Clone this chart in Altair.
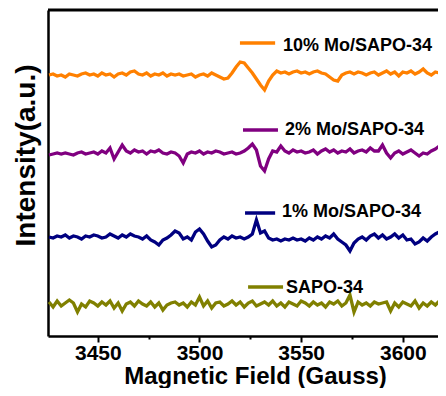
import altair as alt
import pandas as pd

FONT = "Liberation Sans"

# Magnetic field sample positions (Gauss)
field_gauss = [
    3426, 3428, 3430, 3432, 3434, 3436, 3438, 3440, 3442, 3444,
    3446, 3448, 3450, 3452, 3454, 3456, 3458, 3460, 3462, 3464,
    3466, 3468, 3470, 3472, 3474, 3476, 3478, 3480, 3482, 3484,
    3486, 3488, 3490, 3492, 3494, 3496, 3498, 3500, 3502, 3504,
    3506, 3508, 3510, 3512, 3514, 3516, 3518, 3520, 3522, 3524,
    3526, 3528, 3530, 3532, 3534, 3536, 3538, 3540, 3542, 3544,
    3546, 3548, 3550, 3552, 3554, 3556, 3558, 3560, 3562, 3564,
    3566, 3568, 3570, 3572, 3574, 3576, 3578, 3580, 3582, 3584,
    3586, 3588, 3590, 3592, 3594, 3596, 3598, 3600, 3602, 3604,
    3606, 3608, 3610, 3612, 3614, 3616, 3618, 3620,
]

# EPR signal of each sample (a.u., relative to its own baseline)
sapo34 = [
    2, -3, 3, -2, 1, 4, 1, -8, 0, -3,
    3, 1, -2, 2, -1, 3, -4, 1, -7, 0,
    2, -2, 3, 0, -2, 2, -3, 1, -6, -1,
    1, 2, -1, 1, -3, 2, -1, 7, -2, 3,
    -4, 1, 2, -2, 0, 3, -1, 2, -3, 1,
    3, -2, 0, 2, -1, 3, -2, 1, -3, 2,
    0, -2, 3, 1, -2, 2, -1, 1, -3, 2,
    0, 3, -2, 1, 9, -8, 2, -1, 1, -2,
    2, 0, 1, 2, -7, 1, -3, 2, 0, -2,
    3, -4, 1, -2, 2, -1, 3, 1,
]
mo1 = [
    0, -1, 1, 0, 2, -1, 1, 0, -2, 1,
    0, 2, 1, -1, 0, 3, 1, -1, 2, 0,
    3, 1, 0, -2, 1, -3, -5, -8, -3, -1,
    2, 6, 4, -2, 0, -3, 5, 8, 3, -4,
    -10, -8, -3, 0, -2, 1, -1, 0, -2, 0,
    3, 17, 4, 6, -1, -3, -2, -4, -2, -3,
    -1, -3, -2, -4, -1, -3, 0, -2, 1, -1,
    3, -2, -5, -8, -14, -6, -2, 0, -3, 1,
    3, -1, 2, -2, 0, 3, -1, 2, -3, -2,
    -7, -5, -1, -4, 0, 3, 5, 2,
]
mo2 = [
    -1, 0, 1, 0, 1, 0, -1, 1, 2, 0,
    1, 2, 0, 3, 1, 6, -5, 2, 9, 3,
    1, 4, 2, 3, 0, 3, 2, 4, 1, 0,
    2, 1, -2, -9, 0, 2, 1, 3, 0, 2,
    1, 3, 2, 0, 1, 2, 0, 1, 3, 6,
    10, 4, -12, -17, -5, 3, 2, 8, 3, 1,
    4, 2, 3, 1, 2, 4, 0, 3, 5, 2,
    4, 1, 3, 2, 5, 1, 3, 4, 2, 6,
    3, 3, 9, 1, -4, 1, 3, 0, 2, 4,
    1, -2, 1, 0, 3, 5, 8, 6,
]
mo10 = [
    0, 1, -1, 0, -2, 1, 0, -1, 1, 2,
    0, 1, -1, 2, 0, 1, -2, 1, 2, 0,
    3, 4, 1, 0, 2, -1, 1, 0, 2, -1,
    1, 0, 1, -1, 0, 1, -2, 0, 1, -1,
    2, 0, -2, -4, -3, 2, 8, 13, 12, 7,
    2, -4, -10, -15, -6, 0, 4, 2, 3, 1,
    3, 4, 2, 3, 1, 3, 4, 2, 1, -2,
    -5, -6, 0, 2, 3, 1, 3, 2, 0, 2,
    3, 0, 2, 4, 1, 3, -1, 3, 2, 4,
    1, 3, 6, 2, 0, 3, 2, 4,
]

series_names = ["SAPO-34", "1% Mo/SAPO-34", "2% Mo/SAPO-34", "10% Mo/SAPO-34"]
series_colors = ["#808000", "#000080", "#800080", "#FF8000"]
series_offsets = [32, 99, 182, 261]  # vertical offset for clarity
series_values = [sapo34, mo1, mo2, mo10]

# in-plot legend annotations
seg_start = [3523.9, 3522.4, 3521.4, 3519.9]
seg_end = [3541.1, 3537.2, 3538.6, 3537.2]
seg_y = [49, 123, 206, 293]
text_x = [3542.6, 3540.6, 3542.1, 3541.1]
text_y = [48, 124.5, 206, 290]

x_ticks = [3450, 3475, 3500, 3525, 3550, 3575, 3600]
x_domain = [3425.5, 3617.3]
y_domain = [0, 326]
PLOT_W, PLOT_H = 390, 326

rows = []
for name, off, vals in zip(series_names, series_offsets, series_values):
    for g, v in zip(field_gauss, vals):
        rows.append({"field": g, "intensity": off + v, "sample": name})
df = pd.DataFrame(rows)

label_df = pd.DataFrame({
    "sample": series_names, "x1": seg_start, "x2": seg_end,
    "ys": seg_y, "xt": text_x, "yt": text_y,
})

x_scale = alt.Scale(domain=x_domain, nice=False, zero=False)
y_scale = alt.Scale(domain=y_domain, nice=False, zero=False)
color = alt.Color("sample:N", scale=alt.Scale(domain=series_names, range=series_colors), legend=None)

x_axis = alt.Axis(
    values=x_ticks, format="d",
    labelExpr="datum.value % 50 === 0 ? datum.label : ''",
    title="Magnetic Field (Gauss)", grid=False,
    domainColor="black", domainWidth=2.5,
    tickColor="black", tickWidth=2,
    tickSize={"condition": {"test": "datum.value % 50 === 0", "value": 6}, "value": 3},
    labelFont=FONT, labelFontSize=21, labelFontWeight="bold", labelColor="black",
    labelPadding=0, labelFlush=False,
    titleFont=FONT, titleFontSize=24, titleFontWeight="bold", titleColor="black",
    titleX=207, titleY=47, titleBaseline="alphabetic", titleAlign="center",
)
y_axis = alt.Axis(
    title="Intensity(a.u.)", labels=False, ticks=False, grid=False,
    domainColor="black", domainWidth=2.5,
    titleFont=FONT, titleFontSize=28, titleFontWeight="bold", titleColor="black",
    titleX=-22, titleY=145, titleAngle=270, titleAlign="center", titleBaseline="middle",
)

lines = alt.Chart(df).mark_line(strokeWidth=3.3, clip=True).encode(
    x=alt.X("field:Q", scale=x_scale, axis=x_axis),
    y=alt.Y("intensity:Q", scale=y_scale, axis=y_axis),
    color=color,
)

segs = alt.Chart(label_df).mark_rule(strokeWidth=3.5).encode(
    x=alt.X("x1:Q", scale=x_scale, axis=x_axis),
    x2="x2:Q",
    y=alt.Y("ys:Q", scale=y_scale, axis=y_axis),
    color=color,
)

texts = alt.Chart(label_df).mark_text(
    align="left", baseline="middle", font=FONT, fontSize=18, fontWeight="bold", color="black"
).encode(
    x=alt.X("xt:Q", scale=x_scale, axis=x_axis),
    y=alt.Y("yt:Q", scale=y_scale, axis=y_axis),
    text="sample:N",
)

# top frame line along the upper edge of the plot area
frame_top = alt.Chart(pd.DataFrame({"frame": ["top"]})).mark_rule(color="#000000", strokeWidth=3).encode(
    x=alt.value(0), x2=alt.value(PLOT_W), y=alt.value(0),
)

chart = alt.layer(lines, segs, texts, frame_top).properties(
    width=PLOT_W, height=PLOT_H,
    padding={"left": 40, "top": 2, "right": 0, "bottom": 52},
    autosize=alt.AutoSizeParams(type="none"),
).configure_view(stroke="transparent")

chart.save("out.html", embed_options={"renderer": "svg", "actions": False})
